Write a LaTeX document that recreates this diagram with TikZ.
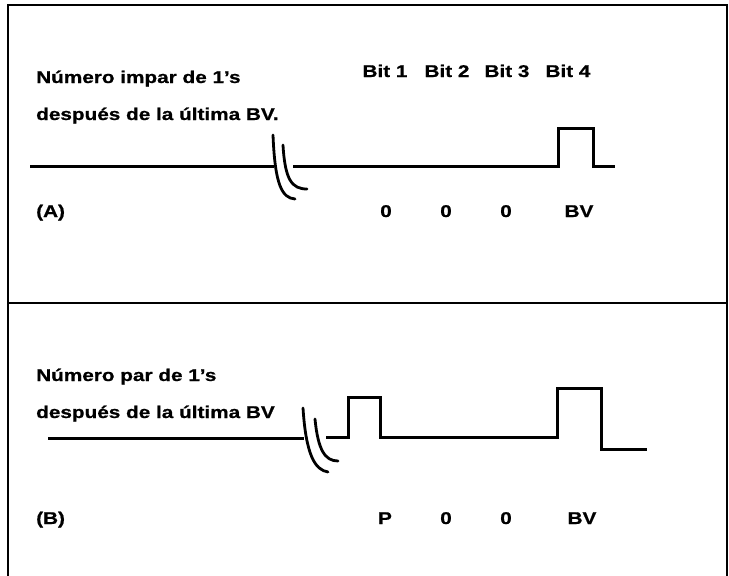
\documentclass[tikz,border=0pt]{standalone}
\usepackage{fontspec}
\setmainfont{Liberation Sans}[FakeStretch=1.22, BoldFeatures={FakeBold=0.8}]
\usepackage{tikz}

\tikzset{
  texto/.style={font=\bfseries\fontsize{17}{19}\selectfont, inner sep=0pt, anchor=base west},
  marca/.style={font=\bfseries\fontsize{17}{19}\selectfont, inner sep=0pt, anchor=base},
  senal/.style={line width=3pt, line join=miter},
  corte/.style={line width=2.8pt, line cap=round},
  marco/.style={line width=1.3pt}
}

\begin{document}
\begin{tikzpicture}[x=1pt, y=-1pt]
\useasboundingbox (0,0) rectangle (729,576);

% Marco y separación de los dos casos
\draw[marco] (8,578) -- (8,5) -- (727,5) -- (727,578);
\draw[marco] (8,303) -- (727,303);

% ---- Caso (A) ----
\node[texto] (tituloA) at (36,83) {Número impar de 1’s};
\node[texto] (subA) at (36,120) {después de la última BV.};
\node[marca] (bit1) at (385,77) {Bit 1};
\node[marca] (bit2) at (447,77) {Bit 2};
\node[marca] (bit3) at (507,77) {Bit 3};
\node[marca] (bit4) at (568,77) {Bit 4};

% señal con el corte
\draw[senal] (30,166) -- (274,166);
\draw[senal] (293,166) -- (558,166) -- (558,128) -- (593,128) -- (593,166) -- (615,166);
\draw[corte] (273,135) .. controls (275,185) and (282,198) .. (295,199);
\draw[corte] (283,145) .. controls (285,180) and (292,189) .. (307,189);

\node[texto] (etiqA) at (36,217) {(A)};
\node[marca] (ceroA1) at (386,217) {0};
\node[marca] (ceroA2) at (446,217) {0};
\node[marca] (ceroA3) at (506,217) {0};
\node[marca] (bvA) at (579,217) {BV};

% ---- Caso (B) ----
\node[texto] (tituloB) at (36,381) {Número par de 1’s};
\node[texto] (subB) at (36,418) {después de la última BV};

% señal con el corte
\draw[senal] (48,438) -- (304,438);
\draw[senal] (326,437) -- (348,437) -- (348,397) -- (380,397) -- (380,437) -- (557,437) -- (557,388) -- (601,388) -- (601,449) -- (647,449);
\draw[corte] (303,408) .. controls (306,455) and (315,470) .. (328,472);
\draw[corte] (315,419) .. controls (318,450) and (325,461) .. (338,461);

\node[texto] (etiqB) at (36,524) {(B)};
\node[marca] (p) at (385,524) {P};
\node[marca] (ceroB1) at (446,524) {0};
\node[marca] (ceroB2) at (506,524) {0};
\node[marca] (bvB) at (582,524) {BV};
\end{tikzpicture}
\end{document}
